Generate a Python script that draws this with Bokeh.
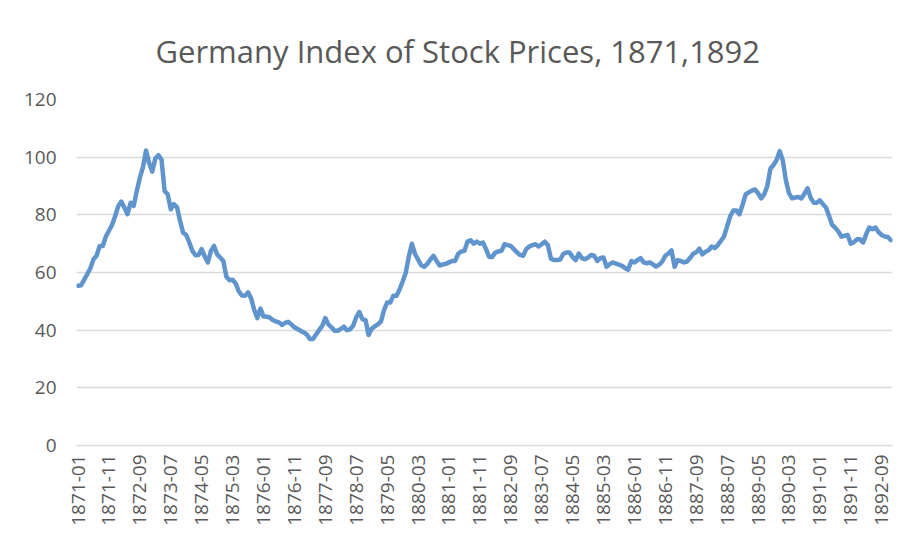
import math
from bokeh.plotting import figure
from bokeh.models import Range1d, FixedTicker, ColumnDataSource
from bokeh.embed import file_html
from bokeh.resources import INLINE

# Monthly index values, 1871-01 .. 1892-12
values = [
    55.4, 55.6, 57.5, 59.5, 61.5, 64.6, 65.8, 69.2, 69.2, 72.5, 74.5, 76.5,
    79.5, 83.0, 84.6, 82.5, 80.2, 84.2, 83.1, 88.3, 92.9, 96.5, 102.3, 98.0,
    95.0, 99.5, 100.7, 99.2, 88.3, 87.1, 81.9, 83.7, 82.7, 77.9, 73.8, 73.0,
    70.4, 67.5, 66.0, 66.1, 68.1, 65.5, 63.5, 67.5, 69.2, 66.3, 65.2, 64.0,
    58.5, 57.3, 57.5, 56.2, 53.5, 52.0, 51.9, 53.1, 51.0, 47.0, 44.2, 47.5,
    44.7, 44.7, 44.4, 43.5, 43.0, 42.7, 41.8, 42.5, 42.9, 42.0, 41.0, 40.4,
    39.8, 39.2, 38.5, 36.9, 36.9, 38.5, 40.0, 41.5, 44.2, 42.0, 41.0, 39.8,
    39.8, 40.4, 41.2, 40.0, 40.3, 41.5, 44.5, 46.3, 43.8, 43.5, 38.3, 40.5,
    41.3, 42.0, 43.0, 47.0, 49.6, 49.6, 51.9, 51.9, 54.0, 56.8, 59.8, 65.5,
    70.0, 66.5, 64.5, 62.5, 62.0, 63.0, 64.5, 65.8, 64.0, 62.4, 62.8, 63.0,
    63.5, 64.0, 64.0, 66.5, 67.3, 67.5, 70.7, 71.2, 70.0, 70.7, 70.0, 70.4,
    68.1, 65.4, 65.4, 66.9, 67.3, 67.5, 69.8, 69.5, 69.2, 68.1, 67.0, 66.1,
    65.8, 68.1, 69.0, 69.5, 69.8, 69.0, 69.8, 70.7, 69.5, 64.8, 64.3, 64.3,
    64.5, 66.5, 66.9, 66.9, 65.4, 64.3, 66.6, 65.0, 64.6, 65.2, 66.1, 65.8,
    64.0, 65.0, 65.2, 62.0, 62.9, 63.5, 63.1, 62.7, 62.3, 61.5, 61.0, 64.0,
    63.5, 64.3, 65.0, 63.5, 63.2, 63.5, 62.8, 62.0, 62.7, 63.8, 65.8, 66.6,
    67.7, 62.0, 64.3, 64.0, 63.5, 63.8, 65.0, 66.5, 67.0, 68.3, 66.3, 67.2,
    67.7, 69.0, 68.5, 69.5, 71.0, 72.5, 76.0, 79.5, 81.5, 81.5, 80.2, 83.5,
    87.1, 87.8, 88.4, 88.8, 87.5, 85.7, 87.1, 90.0, 96.0, 97.3, 99.0, 102.1,
    98.9, 92.0, 87.5, 85.7, 86.0, 86.2, 85.7, 87.3, 89.2, 86.0, 84.2, 84.2,
    85.0, 83.7, 82.5, 79.5, 76.5, 75.5, 74.2, 72.4, 72.8, 73.0, 70.0, 70.5,
    71.5, 71.5, 70.4, 73.3, 75.6, 75.0, 75.6, 74.0, 73.0, 72.5, 72.3, 71.2,
]

months = ["%d-%02d" % (1871 + k // 12, k % 12 + 1) for k in range(len(values))]

tick_labels = [
    "1871-01", "1871-11", "1872-09", "1873-07", "1874-05", "1875-03",
    "1876-01", "1876-11", "1877-09", "1878-07", "1879-05", "1880-03",
    "1881-01", "1881-11", "1882-09", "1883-07", "1884-05", "1885-03",
    "1886-01", "1886-11", "1887-09", "1888-07", "1889-05", "1890-03",
    "1891-01", "1891-11", "1892-09",
]
y_ticks = [0, 20, 40, 60, 80, 100, 120]

tick_pos = [months.index(t) for t in tick_labels]
source = ColumnDataSource(dict(x=list(range(len(values))), y=values, month=months))

FONT = "Open Sans"
TXT = "#595959"
GRID = "#D9D9D9"

p = figure(
    width=905, height=531,
    output_backend="svg", toolbar_location=None,
    x_range=Range1d(-0.5, len(values) - 0.5),
    y_range=Range1d(0, 120),
    min_border_left=76, min_border_right=13,
    min_border_top=98, min_border_bottom=86,
    title="Germany Index of Stock Prices, 1871,1892",
)
p.title.text_font = FONT
p.title.text_font_size = "31px"
p.title.text_font_style = "normal"
p.title.text_color = TXT
p.title.align = "left"
p.title.offset = 79
p.title.standoff = 55

p.line("x", "y", source=source, line_color="#6094CD", line_width=4.5,
       line_join="round", line_cap="round")

p.outline_line_color = None
p.background_fill_color = "white"
p.border_fill_color = "white"

p.xgrid.grid_line_color = None
p.ygrid.grid_line_color = GRID
p.ygrid.grid_line_width = 1.3
p.ygrid.ticker = FixedTicker(ticks=y_ticks)

p.yaxis.ticker = FixedTicker(ticks=y_ticks)
p.yaxis.axis_line_color = None
p.yaxis.major_tick_line_color = None
p.yaxis.minor_tick_line_color = None
p.yaxis.major_tick_out = 0
p.yaxis.major_label_standoff = 20
p.yaxis.major_label_text_font = FONT
p.yaxis.major_label_text_font_size = "19px"
p.yaxis.major_label_text_color = TXT

p.xaxis.ticker = FixedTicker(ticks=tick_pos)
p.xaxis.major_label_overrides = {pos: lab for pos, lab in zip(tick_pos, tick_labels)}
p.xaxis.major_label_orientation = math.pi / 2
p.xaxis.axis_line_color = GRID
p.xaxis.axis_line_width = 1.3
p.xaxis.major_tick_line_color = None
p.xaxis.minor_tick_line_color = None
p.xaxis.major_tick_out = 0
p.xaxis.major_label_standoff = 9
p.xaxis.major_label_text_font = FONT
p.xaxis.major_label_text_font_size = "19px"
p.xaxis.major_label_text_color = TXT

open("out.html", "w").write(file_html(p, INLINE))
